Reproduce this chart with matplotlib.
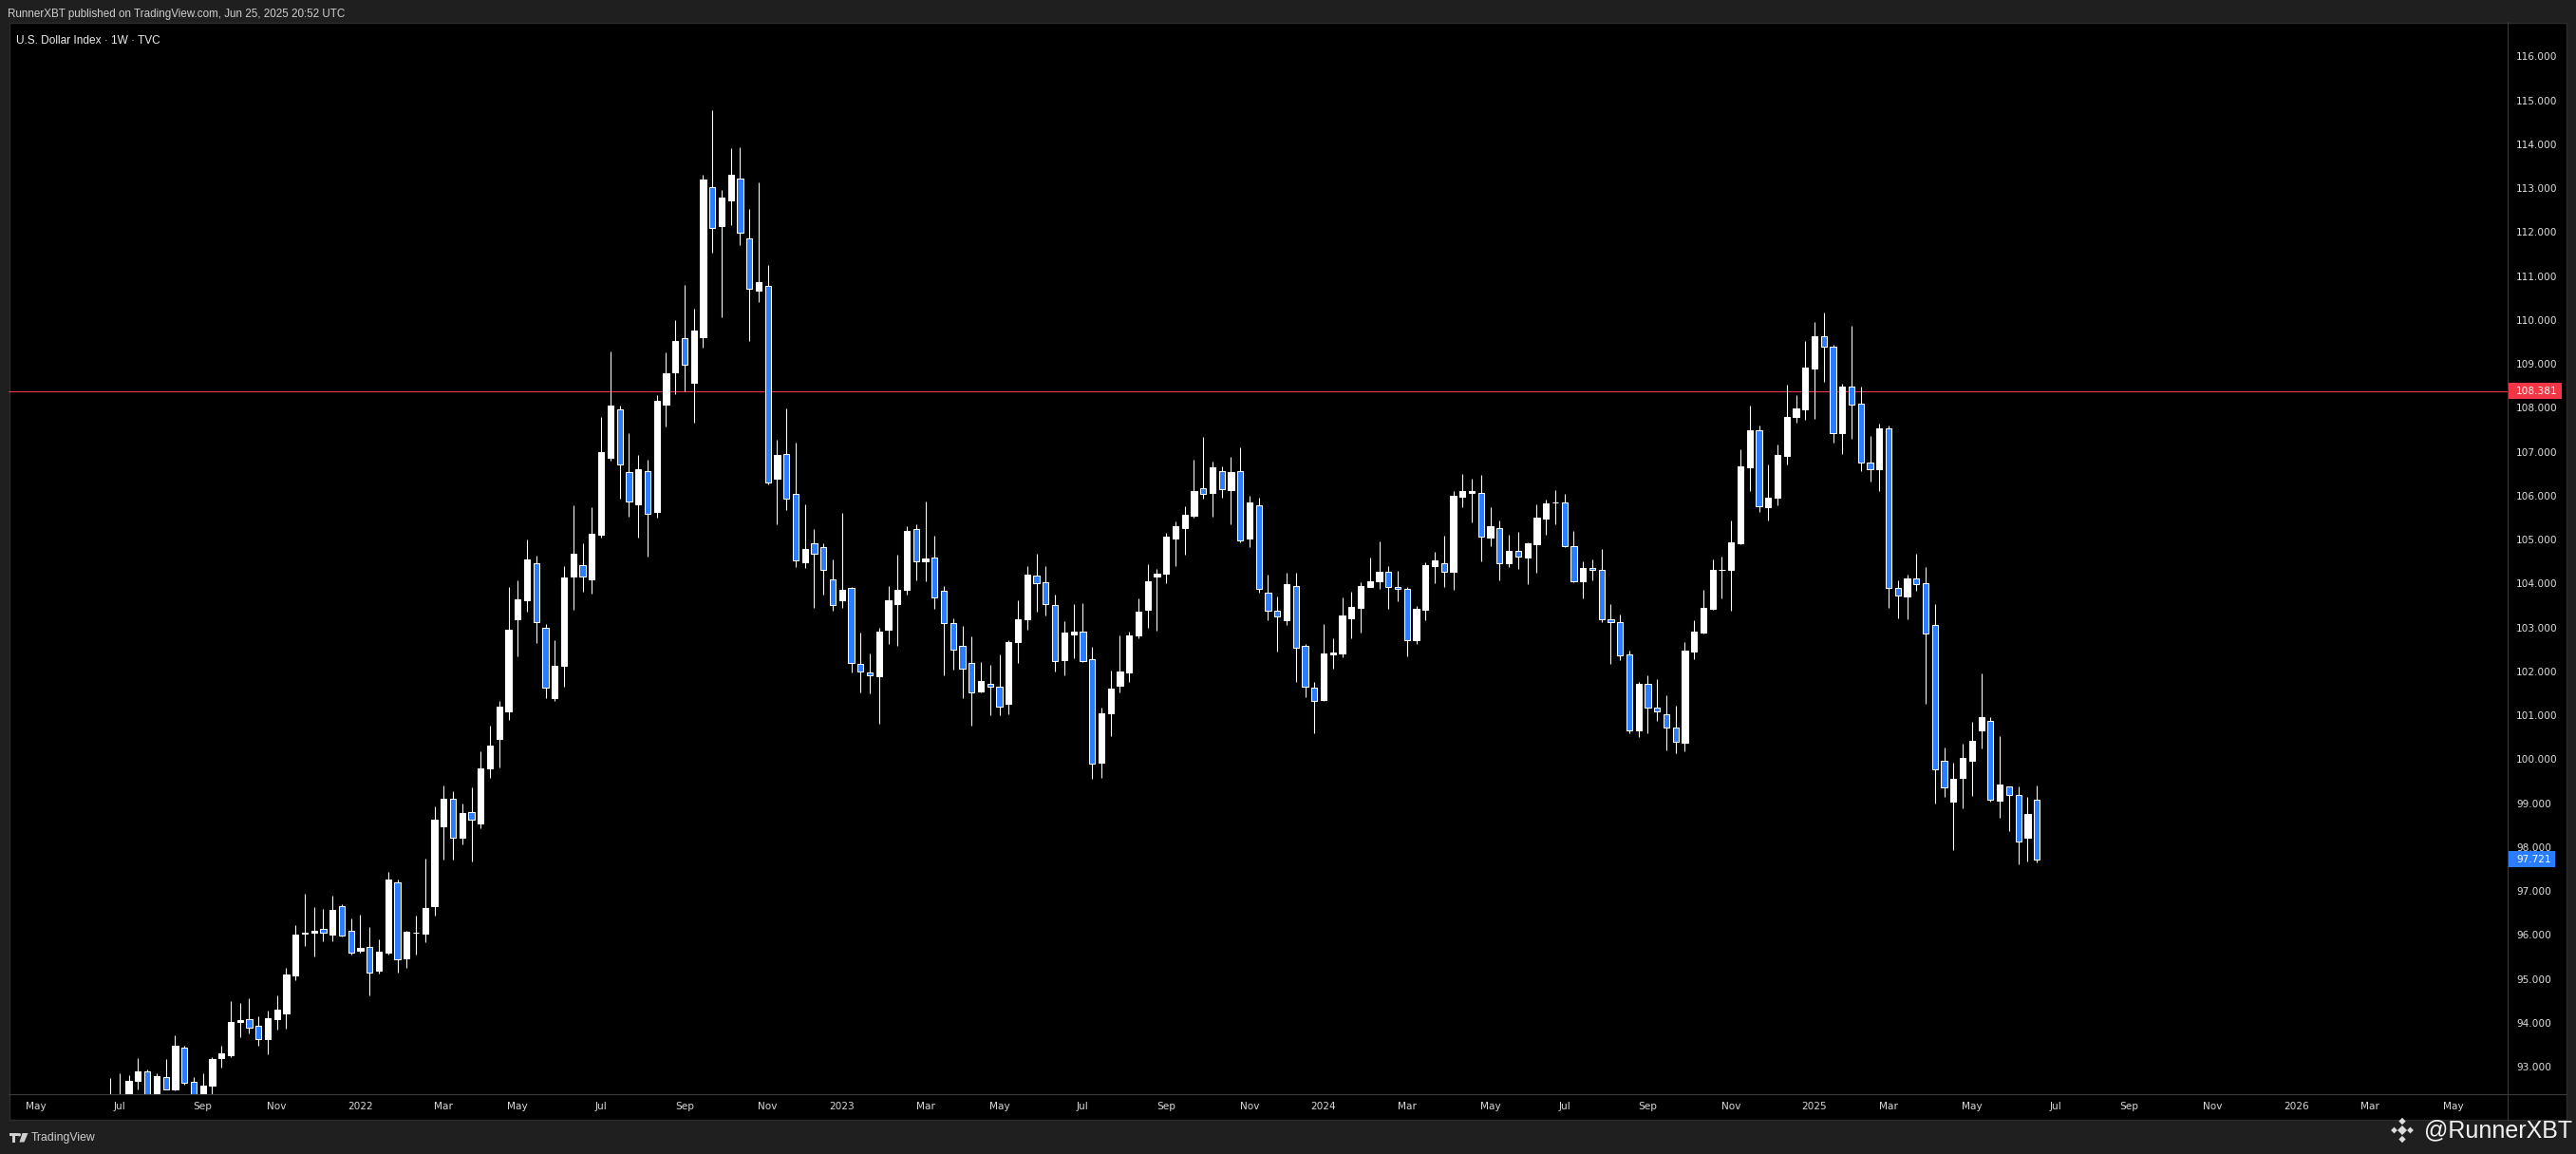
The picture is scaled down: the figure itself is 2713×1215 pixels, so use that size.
import numpy as np
import pandas as pd
import matplotlib
matplotlib.use('Agg')
import matplotlib.pyplot as plt
from matplotlib.patches import Rectangle, Polygon, Circle
from matplotlib.transforms import blended_transform_factory

plt.rcParams['font.family'] = ['DejaVu Sans']

# ---------------- data (weekly OHLC, U.S. Dollar Index, weeks from 2021-06-28) ----------------
first_week = '2021-06-28'

opens = [
    # 2021
    92.24, 92.22, 92.12, 92.67, 92.89, 92.17, 92.76, 92.48, 93.43, 92.65,
    92.14, 92.57, 93.20, 93.25, 94.02, 94.08, 93.93, 93.63, 94.09, 94.22,
    95.08, 96.02, 96.04, 96.13, 96.01, 96.66, 96.10,
    # 2022
    95.64, 95.73, 95.19, 95.60, 97.19, 95.46, 96.05, 96.03, 96.66, 98.48,
    99.10, 98.21, 98.80, 98.54, 99.80, 100.47, 101.09, 103.19, 103.62, 104.45,
    103.00, 101.40, 102.13, 104.16, 104.41, 104.09, 105.11, 106.86, 107.96, 106.54,
    105.81, 106.56, 105.63, 108.08, 108.81, 109.59, 108.57, 109.61, 113.02, 112.14,
    112.73, 113.22, 111.85, 110.66, 110.77, 106.39, 106.95, 106.03, 104.48, 104.91,
    104.82, 104.09,
    # 2023
    103.62, 103.89, 102.16, 101.97, 101.89, 102.95, 103.54, 103.86, 105.23, 104.50,
    104.60, 103.84, 103.09, 102.57, 102.18, 101.55, 101.71, 101.64, 101.25, 102.67,
    103.18, 104.19, 104.02, 103.52, 102.26, 102.84, 102.90, 102.27, 99.93, 101.05,
    101.68, 101.98, 102.82, 103.41, 104.16, 104.23, 105.03, 105.27, 105.55, 106.16,
    106.07, 106.55, 106.13, 106.55, 105.03, 105.77, 103.78, 103.39, 103.17, 103.95,
    102.57, 101.62,
    # 2024
    101.35, 102.38, 102.41, 103.21, 103.45, 103.93, 104.06, 104.26, 103.93, 103.87,
    102.72, 103.41, 104.40, 104.47, 104.27, 105.98, 106.07, 106.07, 105.05, 105.27,
    104.47, 104.74, 104.60, 104.90, 105.48, 105.84, 105.84, 104.84, 104.06, 104.35,
    104.30, 103.19, 103.13, 102.38, 100.65, 101.71, 101.17, 101.02, 100.71, 100.38,
    102.46, 102.89, 103.43, 104.30, 104.30, 104.92, 106.65, 107.48, 105.74, 105.95,
    106.91, 107.80,
    # 2025
    107.97, 108.90, 109.62, 109.38, 107.43, 108.48, 108.09, 106.76, 106.60, 107.54,
    103.89, 103.71, 104.12, 104.00, 103.05, 99.97, 99.04, 99.58, 99.97, 100.66,
    100.88, 99.06, 99.38, 99.18, 98.21, 99.07,
]

highs = [
    # 2021
    92.74, 92.84, 92.80, 93.19, 92.94, 92.84, 93.17, 93.71, 93.48, 92.76,
    92.85, 93.22, 93.48, 94.50, 94.45, 94.56, 94.15, 94.27, 94.62, 95.26,
    96.23, 96.94, 96.64, 96.59, 96.90, 96.69, 96.38,
    # 2022
    96.46, 96.17, 95.89, 97.44, 97.27, 96.09, 96.43, 97.74, 98.93, 99.41,
    99.27, 98.98, 99.36, 100.19, 100.76, 101.33, 103.93, 104.07, 105.00, 104.63,
    103.08, 102.71, 104.40, 105.79, 104.91, 105.74, 107.78, 109.29, 108.05, 107.43,
    106.93, 106.81, 108.29, 109.27, 109.99, 110.79, 110.26, 113.30, 114.78, 112.96,
    113.92, 113.94, 112.53, 113.13, 111.26, 107.28, 107.99, 107.20, 105.80, 105.24,
    104.91, 104.55,
    # 2023
    105.61, 103.91, 102.88, 102.41, 102.99, 103.94, 104.65, 105.30, 105.35, 105.87,
    105.09, 103.94, 103.21, 103.03, 102.80, 102.21, 102.15, 102.38, 102.71, 103.62,
    104.40, 104.68, 104.40, 103.75, 103.14, 103.53, 103.55, 102.56, 101.17, 102.02,
    102.82, 102.90, 103.66, 104.44, 104.33, 105.15, 105.41, 105.76, 106.82, 107.34,
    106.77, 106.67, 106.88, 107.10, 105.99, 105.95, 104.20, 103.70, 104.24, 104.24,
    102.62, 101.75,
    # 2024
    103.08, 102.75, 103.68, 103.81, 104.03, 104.59, 104.96, 104.40, 104.29, 103.93,
    103.49, 104.48, 104.72, 105.09, 106.10, 106.49, 106.38, 106.47, 105.74, 105.43,
    105.11, 105.17, 104.94, 105.80, 105.91, 106.13, 106.04, 105.20, 104.50, 104.55,
    104.79, 103.53, 103.29, 102.47, 101.75, 101.91, 101.82, 101.46, 101.22, 102.67,
    103.16, 103.86, 104.55, 104.61, 105.43, 107.06, 108.05, 107.60, 106.71, 107.16,
    108.53, 108.29,
    # 2025
    109.52, 109.95, 110.16, 109.44, 108.54, 109.87, 108.49, 107.36, 107.63, 107.60,
    104.07, 104.20, 104.68, 104.37, 103.53, 100.27, 99.92, 100.35, 100.85, 101.95,
    100.95, 100.53, 99.38, 99.37, 99.14, 99.40,
]

lows = [
    # 2021
    92.00, 91.88, 91.95, 92.48, 91.78, 91.78, 92.48, 92.45, 92.60, 91.94,
    91.98, 92.30, 92.98, 93.22, 93.68, 93.76, 93.48, 93.28, 93.85, 93.87,
    94.96, 95.75, 95.50, 95.86, 95.86, 95.96, 95.55,
    # 2022
    95.60, 94.63, 95.12, 95.56, 95.14, 95.24, 95.55, 95.83, 96.43, 97.72,
    97.71, 98.06, 97.68, 98.43, 99.57, 99.82, 100.90, 102.35, 103.36, 102.65,
    101.38, 101.32, 101.65, 103.40, 103.82, 103.76, 105.05, 106.80, 105.93, 105.53,
    105.05, 104.62, 105.50, 107.58, 108.30, 108.38, 107.67, 109.37, 111.54, 110.05,
    112.15, 111.70, 109.53, 110.41, 106.25, 105.34, 105.68, 104.37, 104.35, 103.45,
    103.75, 103.39,
    # 2023
    103.45, 101.98, 101.53, 101.50, 100.81, 102.63, 102.59, 103.75, 104.08, 104.04,
    103.43, 101.92, 102.04, 101.40, 100.77, 101.53, 101.01, 101.01, 101.03, 102.20,
    102.95, 103.36, 103.28, 102.00, 101.92, 102.30, 102.22, 99.56, 99.58, 100.53,
    101.53, 101.76, 102.76, 103.00, 102.93, 104.01, 104.40, 104.66, 105.50, 105.94,
    105.53, 105.95, 105.35, 104.94, 104.83, 103.80, 103.17, 102.46, 103.06, 101.76,
    101.42, 100.60,
    # 2024
    101.33, 102.07, 102.31, 102.76, 102.89, 103.93, 103.88, 103.43, 103.60, 102.35,
    102.63, 103.17, 104.01, 103.91, 103.86, 105.74, 105.40, 104.51, 104.86, 104.08,
    104.38, 104.34, 103.99, 104.25, 105.12, 105.35, 104.82, 104.03, 103.65, 104.08,
    103.13, 102.16, 102.26, 100.60, 100.51, 100.58, 100.88, 100.21, 100.14, 100.17,
    102.28, 102.86, 103.41, 103.67, 103.37, 104.90, 106.11, 105.62, 105.43, 105.79,
    106.70, 107.66,
    # 2025
    107.73, 107.75, 108.60, 107.21, 106.95, 107.30, 106.56, 106.33, 106.10, 103.45,
    103.21, 103.19, 103.84, 101.26, 98.99, 99.15, 97.93, 98.89, 99.16, 100.25,
    99.04, 98.67, 98.36, 97.60, 97.68, 97.65,
]

closes = [
    # 2021
    92.23, 92.13, 92.67, 92.89, 92.17, 92.78, 92.49, 93.48, 92.63, 92.13,
    92.57, 93.17, 93.31, 94.02, 94.05, 93.89, 93.62, 94.10, 94.30, 95.10,
    96.01, 96.05, 96.09, 96.06, 96.57, 95.99, 95.60,
    # 2022
    95.71, 95.15, 95.62, 97.26, 95.45, 96.07, 96.04, 96.62, 98.63, 99.10,
    98.21, 98.77, 98.62, 99.78, 100.31, 101.20, 102.95, 103.64, 104.55, 103.13,
    101.63, 102.13, 104.14, 104.68, 104.16, 105.13, 106.99, 108.05, 106.70, 105.87,
    106.60, 105.59, 108.16, 108.79, 109.52, 108.99, 109.76, 113.19, 112.10, 112.79,
    113.30, 111.99, 110.72, 110.85, 106.29, 106.93, 105.94, 104.52, 104.79, 104.67,
    104.30, 103.50,
    # 2023
    103.85, 102.18, 101.99, 101.90, 102.90, 103.62, 103.85, 105.20, 104.50, 104.56,
    103.68, 103.09, 102.49, 102.07, 101.53, 101.79, 101.64, 101.19, 102.66, 103.18,
    104.20, 104.00, 103.54, 102.23, 102.88, 102.90, 102.24, 99.89, 101.04, 101.60,
    101.99, 102.81, 103.36, 104.06, 104.22, 105.06, 105.30, 105.56, 106.10, 106.03,
    106.64, 106.14, 106.54, 104.99, 105.84, 103.88, 103.37, 103.24, 103.98, 102.53,
    101.66, 101.32,
    # 2024
    102.40, 102.42, 103.27, 103.46, 103.94, 104.06, 104.26, 103.93, 103.87, 102.72,
    103.42, 104.42, 104.52, 104.26, 105.99, 106.10, 106.11, 105.06, 105.30, 104.47,
    104.74, 104.61, 104.91, 105.50, 105.82, 105.85, 104.84, 104.06, 104.35, 104.30,
    103.19, 103.13, 102.37, 100.65, 101.71, 101.17, 101.08, 100.71, 100.39, 102.47,
    102.90, 103.44, 104.30, 104.32, 104.93, 106.66, 107.48, 105.75, 105.95, 106.92,
    107.80, 107.98,
    # 2025
    108.91, 109.62, 109.39, 107.43, 108.48, 108.08, 106.76, 106.61, 107.54, 103.89,
    103.72, 104.12, 103.99, 102.87, 99.76, 99.36, 99.56, 100.02, 100.41, 100.95,
    99.07, 99.42, 99.18, 98.12, 98.75, 97.721,
]

marked_level = 108.381                       # red horizontal line
price_ticks = list(range(93, 117))           # 93.000 ... 116.000
axis_months = ('2021-05-01', '2026-05-01')   # time axis label range (every 2 months)

header_text = 'RunnerXBT published on TradingView.com, Jun 25, 2025 20:52 UTC'
title_text = 'U.S. Dollar Index \u00b7 1W \u00b7 TVC'
watermark = '@RunnerXBT'

# ---------------- styling ----------------
BG = '#1f1f1f'
UP = '#ffffff'
DOWN = '#2a7dff'
RED = '#f23645'
GRID_SEP = '#3a3a3a'
TXT = '#d8d8d8'

W, H = 2713, 1215
fig = plt.figure(figsize=(W / 100, H / 100), dpi=100)
fig.patch.set_facecolor(BG)

# background panel (pixel coordinates)
bg = fig.add_axes([0, 0, 1, 1], zorder=0)
bg.set_xlim(0, W)
bg.set_ylim(H, 0)
bg.axis('off')
bg.add_patch(Rectangle((9.5, 23.5), 2693, 1155, facecolor='black',
                       edgecolor='#2c2c2c', lw=1.0))

# main price axes
L, T, R, B = 9, 23, 2641, 1152
ax = fig.add_axes([L / W, 1 - B / H, (R - L) / W, (B - T) / H], zorder=1)
ax.set_facecolor('none')
for s in ax.spines.values():
    s.set_visible(False)

weeks = pd.date_range(first_week, periods=len(closes), freq='W-MON')
start = weeks[0]
xpos = np.arange(len(closes))

o = np.array(opens)
h = np.array(highs)
l = np.array(lows)
c = np.array(closes)
is_up = c >= o

ax.axhline(marked_level, color=RED, lw=0.8, zorder=1)

ax.vlines(xpos, l, h, colors='white', lw=0.75, zorder=2)
body_bottom = np.minimum(o, c)
body_height = np.maximum(np.abs(c - o), 0.015)
ax.bar(xpos, body_height, bottom=body_bottom, width=0.64,
       color=np.where(is_up, UP, DOWN), edgecolor='white', linewidth=0.75,
       zorder=3)

ax.set_xlim(-10.98, 258.83)
ax.set_ylim(92.374, 116.785)

# price scale
ax.yaxis.tick_right()
ax.set_yticks(price_ticks)
ax.set_yticklabels([f'{v:.3f}' for v in price_ticks])
ax.tick_params(axis='y', length=0, pad=6.6, labelsize=7.6, labelcolor='#e0e0e0')

# time scale: first weekly bar of every other month
month_starts = pd.date_range(axis_months[0], axis_months[1], freq='2MS')
tick_pos, tick_lab = [], []
for d in month_starts:
    first_monday = d + pd.Timedelta(days=(7 - d.weekday()) % 7)
    tick_pos.append((first_monday - start).days / 7)
    tick_lab.append(str(d.year) if d.month == 1 else d.strftime('%b'))
ax.set_xticks(tick_pos)
ax.set_xticklabels(tick_lab)
ax.tick_params(axis='x', length=0, pad=5.8, labelsize=7.6, labelcolor=TXT)

# overlay in pixel coordinates
ov = fig.add_axes([0, 0, 1, 1], zorder=3)
ov.set_xlim(0, W)
ov.set_ylim(H, 0)
ov.axis('off')

ov.plot([2641, 2641], [23, 1179], color=GRID_SEP, lw=0.8)
ov.plot([9, 2703], [1152, 1152], color=GRID_SEP, lw=0.8)

ov.text(8, 15, header_text, color='#cfcfcf', fontsize=8.4,
        family='Liberation Sans', va='center', ha='left')
ov.text(17, 43, title_text, color='#eeeeee', fontsize=8.6,
        family='Liberation Sans', va='center', ha='left')

# TradingView logo + text (bottom left)
ov.add_patch(Rectangle((10, 1193), 8.5, 3, color='#d0d0d0', lw=0))
ov.add_patch(Rectangle((13.2, 1193), 3, 9.5, color='#d0d0d0', lw=0))
ov.add_patch(Circle((20.3, 1194.7), 1.7, color='#d0d0d0', lw=0))
ov.add_patch(Polygon([(23.5, 1193), (29.5, 1193), (25.5, 1202.5), (20.5, 1202.5)],
                     closed=True, color='#d0d0d0', lw=0))
ov.text(33, 1198, 'TradingView', color='#d0d0d0', fontsize=8.8,
        family='Liberation Sans', va='center', ha='left')

# watermark (bottom right) with diamond logo
ov.scatter([2530, 2521.5, 2538.5, 2530, 2530], [1190, 1190, 1190, 1180.5, 1199.5],
           marker='D', s=[26, 12, 12, 14, 14], color='#dcdcdc', linewidths=0)
ov.text(2553, 1190, watermark, color='#f2f2f2', fontsize=18,
        family='Liberation Sans', va='center', ha='left')

# price labels on the scale (data y through the price axes)
bt = blended_transform_factory(fig.transFigure, ax.transData)
px_per_unit = (B - T) / (116.785 - 92.374)
lab_h = 16.5 / px_per_unit
for val, color, x1 in [(marked_level, RED, 2698), (closes[-1], DOWN, 2691)]:
    fig.add_artist(Rectangle((2642 / W, val - lab_h / 2), (x1 - 2642) / W, lab_h,
                             transform=bt, facecolor=color, edgecolor='none',
                             zorder=6))
    fig.add_artist(plt.Text(2650 / W, val, f'{val:.3f}', transform=bt,
                            color='white', fontsize=7.6, va='center', ha='left',
                            zorder=7))

fig.savefig('out.png', dpi=100, facecolor=BG)
